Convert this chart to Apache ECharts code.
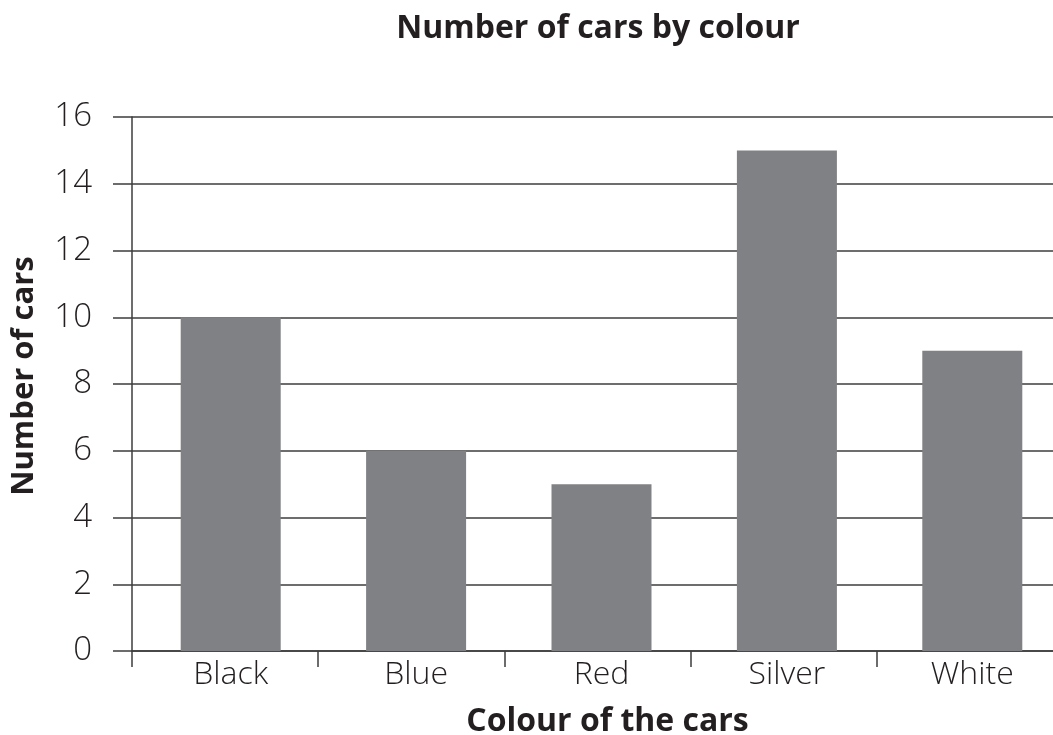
<!DOCTYPE html>
<html>
<head>
<meta charset="utf-8">
<script src="https://cdn.jsdelivr.net/npm/echarts@6/dist/echarts.min.js"></script>
<style>
html,body{margin:0;padding:0;background:#fff;}
#chart{width:1053px;height:735px;}
</style>
</head>
<body>
<div id="chart"></div>
<script>
var categories = ['Black', 'Blue', 'Red', 'Silver', 'White'];
var carCounts = [10, 6, 5, 15, 9];
var yMin = 0, yMax = 16, yStep = 2;

var FONT = '"Open Sans", "Noto Sans", sans-serif';
var chart = echarts.init(document.getElementById('chart'), null, {renderer: 'canvas'});
var lineColor = '#3d3d3d';
var option = {
  backgroundColor: '#ffffff',
  animation: false,
  title: {
    text: 'Number of cars by colour',
    left: 593, top: 8, textAlign: 'center',
    textStyle: {fontFamily: FONT, fontSize: 32, fontWeight: 'bold', color: '#231f20'}
  },
  grid: [
    {left: 132, top: 117, width: 931, height: 534, containLabel: false, outerBoundsMode: 'none'},
    {left: 138, top: 117, width: 927, height: 534, containLabel: false, outerBoundsMode: 'none'}
  ],
  xAxis: [
    {
      type: 'category', gridIndex: 0, data: categories, boundaryGap: true,
      axisLine: {show: true, lineStyle: {color: lineColor, width: 1.5}},
      axisTick: {show: true, length: 16, inside: false, lineStyle: {color: lineColor, width: 1.5}},
      axisLabel: {show: false},
      name: 'Colour of the cars', nameLocation: 'middle', nameGap: 55,
      nameTextStyle: {fontFamily: FONT, fontSize: 32, fontWeight: 'bold', color: '#231f20', padding: [0, 0, 0, 20]}
    },
    {
      type: 'category', gridIndex: 1, data: categories,
      axisLine: {show: false}, axisTick: {show: false},
      axisLabel: {show: true, margin: 8, fontFamily: FONT, fontSize: 32, fontWeight: 300, color: '#231f20'}
    }
  ],
  yAxis: [
    {
      type: 'value', gridIndex: 0, min: yMin, max: yMax, interval: yStep,
      axisLine: {show: true, lineStyle: {color: lineColor, width: 1.5}},
      axisTick: {show: true, length: 19, inside: false, lineStyle: {color: lineColor, width: 1.5}},
      splitLine: {show: true, lineStyle: {color: lineColor, width: 1.5}},
      axisLabel: {margin: 40, fontFamily: FONT, fontSize: 33, fontWeight: 300, color: '#231f20'},
      name: 'Number of cars', nameLocation: 'middle', nameGap: 92, nameRotate: 90,
      nameTextStyle: {fontFamily: FONT, fontSize: 31, fontWeight: 'bold', color: '#231f20', padding: [0, 0, 0, 16]}
    },
    {
      type: 'value', gridIndex: 1, min: yMin, max: yMax, interval: yStep, show: false
    }
  ],
  series: [{
    type: 'bar', xAxisIndex: 1, yAxisIndex: 1,
    data: carCounts, barWidth: 100,
    itemStyle: {color: '#808184'}
  }]
};
chart.setOption(option);
</script>
</body>
</html>
